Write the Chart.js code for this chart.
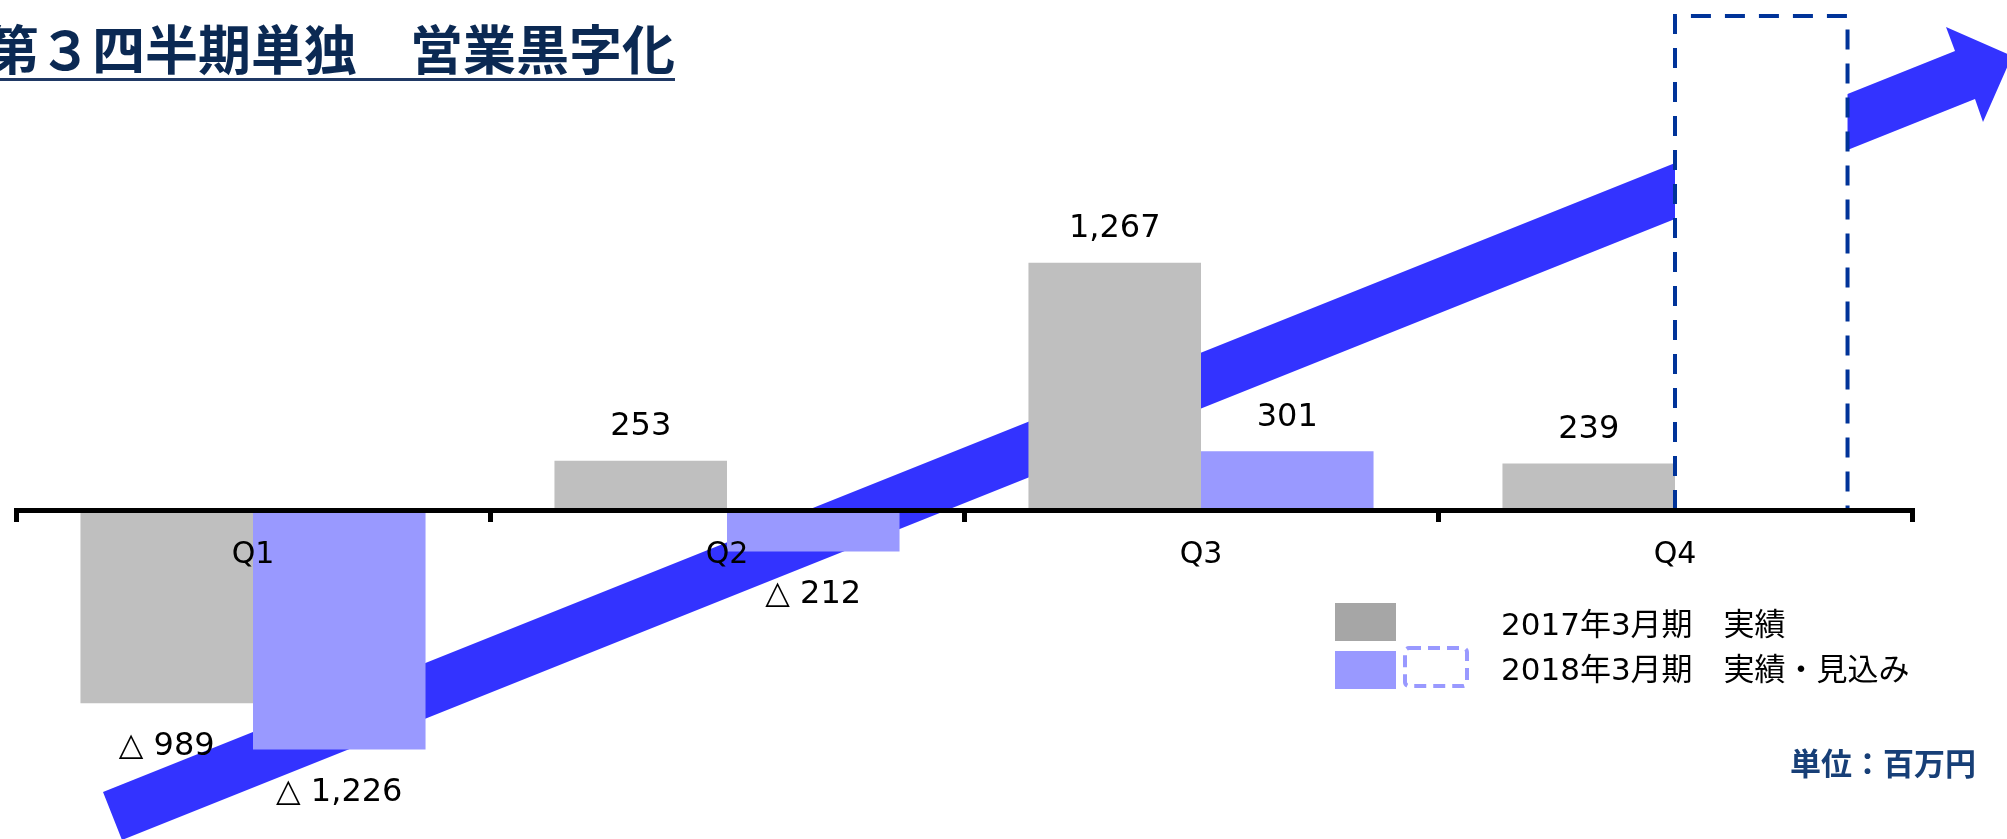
<!DOCTYPE html>
<html lang="ja">
<head>
<meta charset="utf-8">
<title>第３四半期単独 営業黒字化</title>
<script src="https://cdn.jsdelivr.net/npm/chart.js@4.4.1/dist/chart.umd.min.js"></script>
<style>
    html, body { margin: 0; padding: 0; background: #ffffff; }
    #wrap { width: 2007px; height: 839px; position: relative; }
</style>
</head>
<body>
<div id="wrap"><canvas id="myChart"></canvas></div>
<script>
// values (単位：百万円)
const quarters = ['Q1', 'Q2', 'Q3', 'Q4'];
const fy2017 = [-989, 253, 1267, 239];
const fy2018 = [-1226, -212, 301, null];
const fy2018Outlook = [null, null, null, 2530]; // dashed "見込み" box, height as drawn
const seriesNames = ['2017年3月期　実績', '2018年3月期　実績・見込み'];
const yMin = -1500;
const yMax = 2530;

const LABEL_FONT = '32px "DejaVu Sans", "Noto Sans CJK JP", sans-serif';

function fmt(v) {
    // negative numbers are written with a triangle, Japanese style
    return v < 0 ? '△ ' + Math.abs(v).toLocaleString('en-US') : v.toLocaleString('en-US');
}

const decor = {
    id: 'decor',
    beforeDatasetsDraw(chart) {
        const ctx = chart.ctx;
        // big trend arrow, sits behind the bars
        ctx.save();
        ctx.fillStyle = '#3333ff';
        ctx.beginPath();
        ctx.moveTo(103, 792);
        ctx.lineTo(1955, 51);
        ctx.lineTo(1946, 27);
        ctx.lineTo(2012, 56);
        ctx.lineTo(1983, 122);
        ctx.lineTo(1975, 99);
        ctx.lineTo(122, 840);
        ctx.closePath();
        ctx.fill();
        ctx.restore();
    },
    afterDatasetsDraw(chart) {
        const ctx = chart.ctx;
        // dashed outline for the forecast bar
        const meta = chart.getDatasetMeta(2);
        ctx.save();
        ctx.strokeStyle = '#003399';
        ctx.lineWidth = 4;
        ctx.setLineDash([20, 14]);
        meta.data.forEach((bar, i) => {
            if (fy2018Outlook[i] == null) return;
            const p = bar.getProps(['x', 'y', 'base', 'width'], true);
            const l = p.x - p.width / 2;
            const r = p.x + p.width / 2;
            ctx.beginPath();
            ctx.moveTo(l, p.base);
            ctx.lineTo(l, p.y);
            ctx.lineTo(r, p.y);
            ctx.lineTo(r, p.base);
            ctx.stroke();
        });
        ctx.restore();
    },
    afterDraw(chart) {
        const ctx = chart.ctx;
        ctx.save();

        // value labels
        ctx.font = LABEL_FONT;
        ctx.fillStyle = '#000000';
        ctx.textAlign = 'center';
        ctx.textBaseline = 'middle';
        [0, 1].forEach(di => {
            const vals = chart.data.datasets[di].data;
            chart.getDatasetMeta(di).data.forEach((bar, i) => {
                const v = vals[i];
                if (v == null) return;
                ctx.fillText(fmt(v), bar.x, v < 0 ? bar.y + 43 : bar.y - 34);
            });
        });

        // title, cut at the left edge like the slide
        ctx.textAlign = 'left';
        ctx.textBaseline = 'alphabetic';
        ctx.font = 'bold 53px "Noto Sans CJK JP", sans-serif';
        ctx.fillStyle = '#0b2953';
        ctx.fillText('第３四半期単独　営業黒字化', -14, 70);
        ctx.fillStyle = '#1f3864';
        ctx.fillRect(0, 78, 675, 3);

        // legend
        ctx.fillStyle = '#a6a6a6';
        ctx.fillRect(1335, 603, 61, 38);
        ctx.fillStyle = '#9999ff';
        ctx.fillRect(1335, 651, 61, 38);
        ctx.strokeStyle = '#9999ff';
        ctx.lineWidth = 4;
        ctx.setLineDash([12, 7]);
        ctx.beginPath();
        ctx.roundRect(1405, 648, 62, 38, 4);
        ctx.stroke();
        ctx.setLineDash([]);

        ctx.font = '31px "DejaVu Sans", "Noto Sans CJK JP", sans-serif';
        ctx.fillStyle = '#000000';
        ctx.textBaseline = 'middle';
        ctx.fillText(seriesNames[0], 1501, 627);
        ctx.fillText(seriesNames[1], 1501, 672);

        // unit note
        ctx.font = 'bold 31px "Noto Sans CJK JP", sans-serif';
        ctx.fillStyle = '#173f77';
        ctx.textAlign = 'right';
        ctx.fillText('単位：百万円', 1976, 763);

        ctx.restore();
    }
};

const ctx = document.getElementById('myChart').getContext('2d');
const myChart = new Chart(ctx, {
    type: 'bar',
    data: {
        labels: quarters,
        datasets: [
            {
                label: seriesNames[0],
                data: fy2017,
                backgroundColor: '#bfbfbf',
                stack: 'a'
            },
            {
                label: seriesNames[1],
                data: fy2018,
                backgroundColor: '#9999ff',
                stack: 'b'
            },
            {
                label: '見込み',
                data: fy2018Outlook,
                backgroundColor: '#ffffff',
                stack: 'b'
            }
        ]
    },
    options: {
        responsive: true,
        maintainAspectRatio: false,
        animation: false,
        categoryPercentage: 0.728,
        barPercentage: 1.0,
        layout: {
            padding: { left: 16, right: 95, top: 16, bottom: 36 }
        },
        scales: {
            x: {
                position: { y: 0 },
                grid: {
                    offset: true,
                    drawOnChartArea: false,
                    drawTicks: true,
                    tickLength: 9,
                    color: '#000000',
                    lineWidth: 5,
                    z: 1
                },
                border: {
                    display: true,
                    color: '#000000',
                    width: 5,
                    z: 1
                },
                ticks: {
                    color: '#000000',
                    padding: 18,
                    z: 1,
                    font: { family: '"DejaVu Sans", sans-serif', size: 30 }
                }
            },
            y: {
                display: false,
                stacked: true,
                min: yMin,
                max: yMax
            }
        },
        plugins: {
            legend: { display: false },
            tooltip: { enabled: false }
        }
    },
    plugins: [decor]
});
</script>
</body>
</html>
